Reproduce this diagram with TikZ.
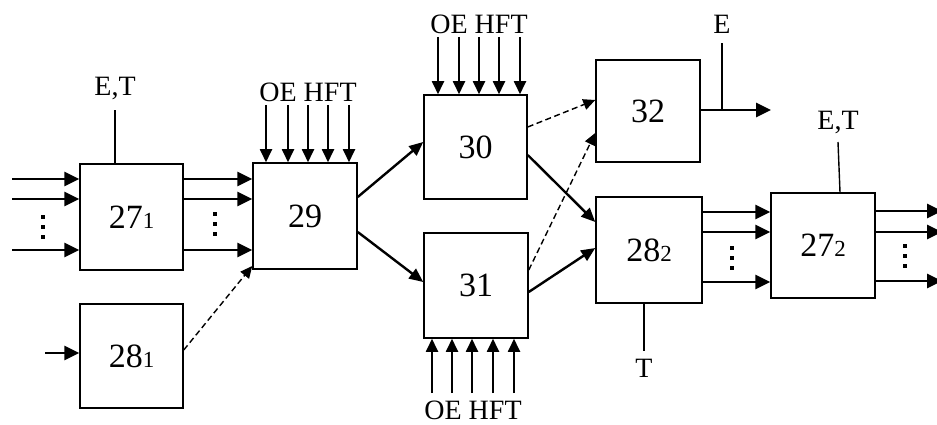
\documentclass[tikz,border=0pt]{standalone}
\usepackage{fontspec}
\setmainfont{Liberation Serif}
\usetikzlibrary{arrows.meta}
\begin{document}
\begin{tikzpicture}[x=1pt,y=-1pt,
  blk/.style={draw,line width=1.5pt,minimum width=103pt,minimum height=104pt,inner sep=0pt,
    font=\fontsize{34}{34}\selectfont},
  lbl/.style={font=\fontsize{28}{28}\selectfont,inner sep=0pt},
  sig/.style={line width=2.8pt,-{Triangle[length=15pt,width=14pt]}},
  feed/.style={line width=1.8pt,-{Triangle[length=13pt,width=12pt]}},
  diag/.style={line width=2.4pt,-{Triangle[length=14pt,width=12pt]}},
  dsh/.style={line width=1.4pt,dash pattern=on 6pt off 3.5pt,-{Triangle[length=12pt,width=11pt]}},
  plain/.style={line width=1.4pt},
  dotm/.style={rectangle,fill,inner sep=0pt,minimum size=4.5pt}
]
\useasboundingbox (0,0) rectangle (937,425);
\newcommand{\sbs}[1]{{\fontsize{23}{23}\selectfont #1}}

% blocks
\node[blk,minimum width=103pt,minimum height=106pt] (b271) at (131.5,217) {27\sbs{1}};
\node[blk,minimum width=103pt,minimum height=104pt] (b281) at (131.5,356) {28\sbs{1}};
\node[blk,minimum width=104pt,minimum height=106pt] (b29) at (305,216) {29};
\node[blk,minimum width=103pt,minimum height=104pt] (b30) at (475.5,147) {30};
\node[blk,minimum width=104pt,minimum height=105pt] (b31) at (476,285.5) {31};
\node[blk,minimum width=104pt,minimum height=102pt] (b32) at (648,111) {32};
\node[blk,minimum width=106pt,minimum height=106pt] (b282) at (649,250) {28\sbs{2}};
\node[blk,minimum width=104pt,minimum height=105pt] (b272) at (823,245.5) {27\sbs{2}};

% labels
\node[lbl] (et1) at (115,88) {E,T};
\node[lbl] (et2) at (838,122) {E,T};
\node[lbl] (le) at (722,24) {E};
\node[lbl] (lt) at (644,368) {T};
\node[lbl] (oe29) at (308,92) {OE HFT};
\node[lbl] (oe30) at (479,24) {OE HFT};
\node[lbl] (oe31) at (473,410) {OE HFT};

% inputs to 27_1
\foreach \y in {179,199,250} \draw[sig] (12,\y) -- (b271.west |- 0,\y);
% 27_1 -> 29
\foreach \y in {179,199,250} \draw[sig] (b271.east |- 0,\y) -- (b29.west |- 0,\y);
% 28_1 input
\coordinate (in281) at (45,353);
\draw[sig] (in281) -- (b281.west |- in281);
% 28_1 -> 29 dashed
\draw[dsh] (b281.east |- 0,350) -- (b29.west |- 0,266);

% E,T line on 27_1
\draw[plain] (b271.north -| 115,0) -- (et1.south |- 0,110);
% OE HFT into 29
\foreach \x in {266,288,308,328,349} \draw[feed] (\x,105) -- (b29.north -| \x,0);
% OE HFT into 30
\foreach \x in {438,459,479,499,520} \draw[feed] (\x,37) -- (b30.north -| \x,0);
% OE HFT into 31
\foreach \x in {432,452,472,493,514} \draw[feed] (\x,393) -- (b31.south -| \x,0);

% 29 -> 30, 31
\draw[diag] (b29.east |- 0,197) -- (b30.west |- 0,142);
\draw[diag] (b29.east |- 0,232) -- (b31.west |- 0,282);
% 30,31 -> 32 dashed
\draw[dsh] (b30.east |- 0,127) -- (b32.west |- 0,100);
\draw[dsh] (b31.east |- 0,270) -- (b32.west |- 0,133);
% 30,31 -> 28_2
\draw[diag] (b30.east |- 0,155) -- (b282.west |- 0,222);
\draw[diag] (b31.east |- 0,292) -- (b282.west |- 0,248);

% 32 output and E
\coordinate (out32) at (771,110);
\draw[sig] (b32.east |- out32) -- (out32);
\draw[plain] (722,110) -- (le.south |- 0,43);

% 28_2 T
\draw[plain] (b282.south -| 644,0) -- (lt.north |- 0,351);
% 28_2 -> 27_2
\foreach \y in {212,232,282} \draw[sig] (b282.east |- 0,\y) -- (b272.west |- 0,\y);
% 27_2 E,T
\draw[plain] (b272.north -| 840,0) -- (et2.south |- 0,142);
% 27_2 outputs
\foreach \y in {211,232,281} \draw[sig] (b272.east |- 0,\y) -- (942,\y);

% dots
\foreach \x/\a in {43/217,215/214,732/248,905/246}
  \foreach \k in {0,1,2} \node[dotm] at (\x,\a+\k*10) {};
\end{tikzpicture}
\end{document}
